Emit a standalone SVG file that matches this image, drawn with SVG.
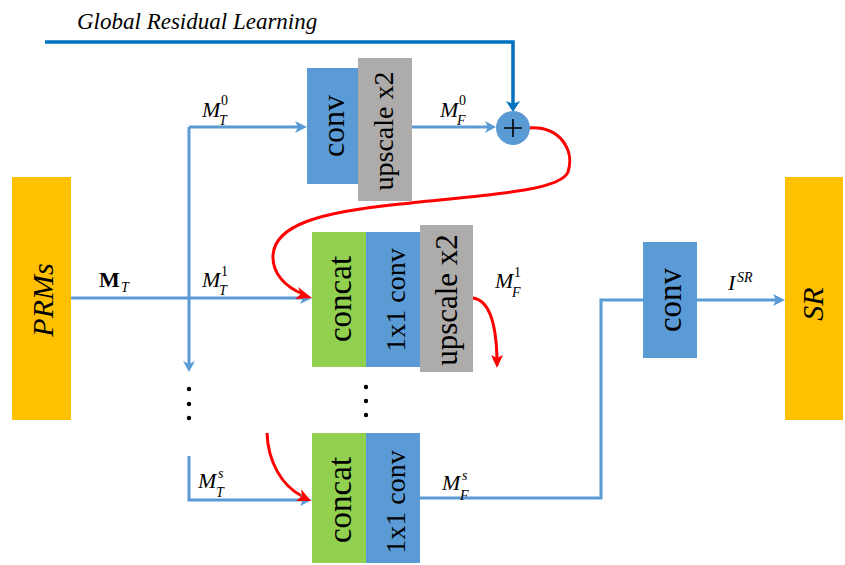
<svg xmlns="http://www.w3.org/2000/svg" width="845" height="565" viewBox="0 0 845 565" font-family="Liberation Serif, serif">
  <rect width="845" height="565" fill="#fff"/>

  <!-- connectors, with their arrowheads drawn as small notched triangles -->
  <g id="connectors">
    <g fill="none" stroke-width="3">
      <path stroke="#0070C0" stroke-width="3.5" d="M45,42 H513 V104"/>
      <g stroke="#5B9BD5">
        <path d="M71,298 H305"/>
        <path d="M189,127 V365"/>
        <path d="M189,127 H300"/>
        <path d="M412,127 H489"/>
        <path d="M189,456 V500 H305"/>
        <path d="M420,498 H601 V300 H778"/>
      </g>
      <g stroke="#FF0000">
        <path d="M529,128 C560,126 575,150 568,172 C560,192 480,195 400,204 C320,212 275,225 273,255 C272,273 285,287 303,294"/>
        <path d="M473,298 C488,300 496,320 497,358"/>
        <path d="M267,433 C268,462 282,486 302,496"/>
      </g>
    </g>
    <g fill="#0070C0">
      <polygon points="506,101 513,112 520,101 513,104"/>
    </g>
    <g fill="#5B9BD5">
      <polygon points="300,292 312,298 300,304 303,298"/>
      <polygon points="183,361 189,372 195,361 189,364"/>
      <polygon points="295,121 307,127 295,133 298,127"/>
      <polygon points="485,121 496,127 485,133 488,127"/>
      <polygon points="300,494 312,500 300,506 303,500"/>
      <polygon points="773,294 785,300 773,306 776,300"/>
    </g>
    <g fill="#FF0000">
      <polygon points="298,287 312,298 295,299 301,294"/>
      <polygon points="491,355 497,368 503,355 497,358"/>
      <polygon points="301,489 311,501 296,501 302,496"/>
    </g>
  </g>

  <text x="77" y="29" font-size="23" font-style="italic" style="font-family:'Liberation Serif',serif">Global Residual Learning</text>

  <!-- input / output maps -->
  <g id="prms">
    <rect fill="#FFC000" x="12" y="177" width="59" height="243"/>
    <text style="font-family:'Liberation Serif',serif" font-style="italic" font-size="30" text-anchor="middle" transform="translate(53,300) rotate(-90)">PRMs</text>
  </g>
  <g id="sr">
    <rect fill="#FFC000" x="785" y="177" width="58" height="243"/>
    <text style="font-family:'Liberation Serif',serif" font-style="italic" font-size="30" text-anchor="middle" transform="translate(823,304) rotate(-90)">SR</text>
  </g>

  <!-- scale 0 branch -->
  <g id="conv0">
    <rect fill="#5B9BD5" x="307" y="68" width="51" height="116"/>
    <text style="font-family:'Liberation Serif',serif" font-size="32" text-anchor="middle" transform="translate(344,126) rotate(-90)">conv</text>
  </g>
  <g id="upscale0">
    <rect fill="#AEABAB" x="358" y="58" width="54" height="143"/>
    <text style="font-family:'Liberation Serif',serif" font-size="28" text-anchor="middle" transform="translate(393,131) rotate(-90)">upscale x2</text>
  </g>
  <g id="sum">
    <circle fill="#5B9BD5" cx="513" cy="128" r="17"/>
    <path d="M504,128 H522 M513,119 V137" stroke="#000" stroke-width="1.6"/>
  </g>

  <!-- scale 1 branch -->
  <g id="concat1">
    <rect fill="#92D050" x="312" y="232" width="54" height="135"/>
    <text style="font-family:'Liberation Serif',serif" font-size="33" text-anchor="middle" transform="translate(351,299) rotate(-90)">concat</text>
  </g>
  <g id="conv1">
    <rect fill="#5B9BD5" x="366" y="232" width="54" height="135"/>
    <text style="font-family:'Liberation Serif',serif" font-size="28" text-anchor="middle" transform="translate(405,300) rotate(-90)">1x1 conv</text>
  </g>
  <g id="upscale1">
    <rect fill="#AEABAB" x="420" y="225" width="53" height="147"/>
    <text style="font-family:'Liberation Serif',serif" font-size="31" text-anchor="middle" transform="translate(457,300) rotate(-90)">upscale x2</text>
  </g>

  <!-- scale S branch -->
  <g id="concatS">
    <rect fill="#92D050" x="312" y="433" width="54" height="130"/>
    <text style="font-family:'Liberation Serif',serif" font-size="33" text-anchor="middle" transform="translate(351,500) rotate(-90)">concat</text>
  </g>
  <g id="convS">
    <rect fill="#5B9BD5" x="366" y="433" width="54" height="130"/>
    <text style="font-family:'Liberation Serif',serif" font-size="28" text-anchor="middle" transform="translate(405,502) rotate(-90)">1x1 conv</text>
  </g>

  <!-- reconstruction -->
  <g id="convOut">
    <rect fill="#5B9BD5" x="643" y="242" width="54" height="116"/>
    <text style="font-family:'Liberation Serif',serif" font-size="33" text-anchor="middle" transform="translate(681,300) rotate(-90)">conv</text>
  </g>

  <!-- ellipsis dots -->
  <g id="dots" fill="#000">
    <circle cx="189" cy="389" r="2.2"/>
    <circle cx="189" cy="404" r="2.2"/>
    <circle cx="189" cy="418" r="2.2"/>
    <circle cx="366" cy="387" r="2.2"/>
    <circle cx="366" cy="401" r="2.2"/>
    <circle cx="366" cy="415" r="2.2"/>
  </g>

  <!-- feature labels -->
  <g id="labels" style="font-family:'Liberation Serif',serif">
    <text x="99" y="287" font-size="22" font-weight="bold">M</text>
    <text font-style="italic" x="121" y="292" font-size="14">T</text>

    <text font-style="italic" x="202" y="117" font-size="22">M</text>
    <text x="221" y="105" font-size="14">0</text>
    <text font-style="italic" x="219" y="125" font-size="14">T</text>

    <text font-style="italic" x="440" y="117" font-size="22">M</text>
    <text x="459" y="105" font-size="14">0</text>
    <text font-style="italic" x="457" y="125" font-size="14">F</text>

    <text font-style="italic" x="202" y="287" font-size="22">M</text>
    <text x="221" y="276" font-size="14">1</text>
    <text font-style="italic" x="219" y="295" font-size="14">T</text>

    <text font-style="italic" x="495" y="288" font-size="22">M</text>
    <text x="514" y="277" font-size="14">1</text>
    <text font-style="italic" x="512" y="297" font-size="14">F</text>

    <text font-style="italic" x="198" y="488" font-size="22">M</text>
    <text font-style="italic" x="218" y="478" font-size="14">s</text>
    <text font-style="italic" x="216" y="497" font-size="14">T</text>

    <text font-style="italic" x="442" y="490" font-size="22">M</text>
    <text font-style="italic" x="462" y="480" font-size="14">s</text>
    <text font-style="italic" x="460" y="500" font-size="14">F</text>

    <text font-style="italic" x="728" y="290" font-size="22">I</text>
    <text font-style="italic" x="737" y="282" font-size="14">SR</text>
  </g>
</svg>
